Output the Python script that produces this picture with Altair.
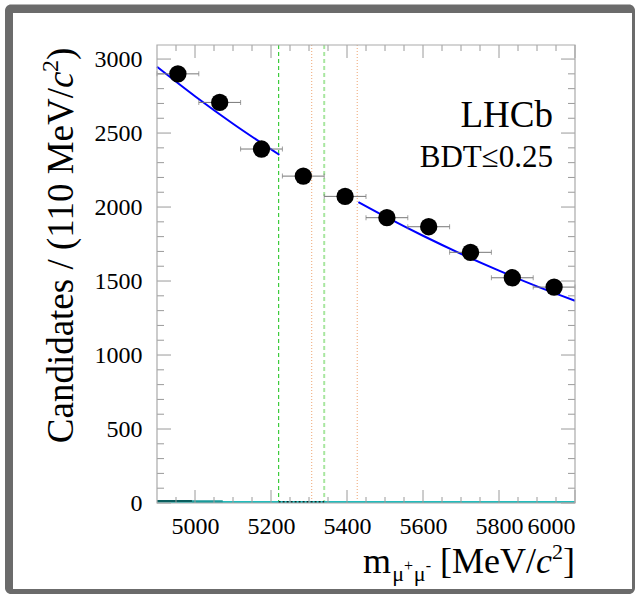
import altair as alt
import pandas as pd

# ---- data ----
bin_center = [4955, 5065, 5175, 5285, 5395, 5505, 5615, 5725, 5835, 5945]
bin_lo = [4900, 5010, 5120, 5230, 5340, 5450, 5560, 5670, 5780, 5890]
bin_hi = [5010, 5120, 5230, 5340, 5450, 5560, 5670, 5780, 5890, 6000]
counts = [2900, 2707, 2392, 2209, 2072, 1928, 1867, 1694, 1522, 1459]

fit_left_x = [4900, 5000, 5100, 5222]
fit_left_y = [2948, 2749, 2563, 2353]
fit_right_x = [5430, 5500, 5600, 5700, 5800, 5900, 6000]
fit_right_y = [2034, 1937, 1806, 1684, 1570, 1464, 1367]

bd_window = [5220, 5340]
bs_window = [5307, 5427]

x_major = [5000, 5200, 5400, 5600, 5800, 6000]
x_minor = [4950, 5050, 5100, 5150, 5250, 5300, 5350, 5450, 5500, 5550,
           5650, 5700, 5750, 5850, 5900, 5950]
y_major = [0, 500, 1000, 1500, 2000, 2500, 3000]
y_minor = [v for v in range(100, 3100, 100) if v % 500 != 0]

W, H = 418, 458
XD = [4900, 6000]
YD = [0, 3095]
FONT = "'Liberation Serif', 'Times New Roman', 'DejaVu Serif', serif"

xs = alt.Scale(domain=XD, nice=False, zero=False)
ys = alt.Scale(domain=YD, nice=False, zero=False)

one = pd.DataFrame({"a": [0]})

# frame / background
outer = alt.Chart(one).mark_rect(color="#6b6b6b", cornerRadius=6).encode(
    x=alt.value(-152), x2=alt.value(478), y=alt.value(-40.5), y2=alt.value(549))
inner = alt.Chart(one).mark_rect(color="white").encode(
    x=alt.value(-144), x2=alt.value(475), y=alt.value(-32), y2=alt.value(544))

pts = pd.DataFrame({"x": bin_center, "lo": bin_lo, "hi": bin_hi, "y": counts})

# axes carrying only labels
base_axes = alt.Chart(pts).mark_point(opacity=0).encode(
    x=alt.X("x:Q", scale=xs, axis=alt.Axis(
        values=x_major, ticks=False, domain=False, grid=False, labelFont=FONT,
        labelFontSize=24, labelColor="black", labelPadding=11, title=None,
        zindex=1, format="d")),
    y=alt.Y("y:Q", scale=ys, axis=alt.Axis(
        values=y_major, ticks=False, domain=False, grid=False, labelFont=FONT,
        labelFontSize=24, labelColor="black", labelPadding=15, title=None,
        zindex=1, format="d")),
)

# ticks inward on all four sides
TC = "#9a9a9a"
xmaj = pd.DataFrame({"v": x_major})
xmin = pd.DataFrame({"v": x_minor})
ymaj = pd.DataFrame({"v": y_major})
ymin = pd.DataFrame({"v": y_minor})


def xticks(df, L):
    b = alt.Chart(df).mark_rule(color=TC, strokeWidth=1).encode(
        x=alt.X("v:Q", scale=xs), y=alt.value(H), y2=alt.value(H - L))
    t = alt.Chart(df).mark_rule(color=TC, strokeWidth=1).encode(
        x=alt.X("v:Q", scale=xs), y=alt.value(0), y2=alt.value(L))
    return b + t


def yticks(df, L):
    l = alt.Chart(df).mark_rule(color=TC, strokeWidth=1).encode(
        y=alt.Y("v:Q", scale=ys), x=alt.value(0), x2=alt.value(L))
    r = alt.Chart(df).mark_rule(color=TC, strokeWidth=1).encode(
        y=alt.Y("v:Q", scale=ys), x=alt.value(W), x2=alt.value(W - L))
    return l + r


ticks = xticks(xmaj, 13) + xticks(xmin, 6) + yticks(ymaj, 14) + yticks(ymin, 7)

box = alt.Chart(one).mark_rect(fillOpacity=0, stroke="#aaaaaa", strokeWidth=1.2).encode(
    x=alt.value(0), x2=alt.value(W), y=alt.value(0), y2=alt.value(H))

# window lines
vl1 = alt.Chart(pd.DataFrame({"v": [bd_window[0]]})).mark_rule(
    color="#3ccc3c", strokeDash=[4, 3], strokeWidth=1.2).encode(
    x=alt.X("v:Q", scale=xs), y=alt.value(0), y2=alt.value(H))
vl2 = alt.Chart(pd.DataFrame({"v": [bd_window[1]]})).mark_rule(
    color="#a8e6a0", strokeDash=[4, 3], strokeWidth=2).encode(
    x=alt.X("v:Q", scale=xs), y=alt.value(0), y2=alt.value(H))
vl3 = alt.Chart(pd.DataFrame({"v": bs_window})).mark_rule(
    color="#f2b48a", strokeDash=[1, 2], strokeWidth=1.2).encode(
    x=alt.X("v:Q", scale=xs), y=alt.value(0), y2=alt.value(H))

# small components near zero
comp_cyan = alt.Chart(pd.DataFrame({"x1": [4900], "x2": [6000]})).mark_rule(
    color="#22bcbc", strokeWidth=2).encode(
    x=alt.X("x1:Q", scale=xs), x2="x2:Q", y=alt.value(H - 1))
comp_dark = alt.Chart(pd.DataFrame({"x1": [4900], "x2": [4992]})).mark_rule(
    color="#0a5f5f", strokeWidth=2).encode(
    x=alt.X("x1:Q", scale=xs), x2="x2:Q", y=alt.value(H - 2))
comp_mid = alt.Chart(pd.DataFrame({"x1": [4992], "x2": [5073]})).mark_rule(
    color="#1a9a9a", strokeWidth=2.5).encode(
    x=alt.X("x1:Q", scale=xs), x2="x2:Q", y=alt.value(H - 1.5))
comp_sig = alt.Chart(pd.DataFrame({"x1": [bd_window[0]], "x2": [bd_window[1]]})).mark_rule(
    color="black", strokeWidth=1.5, strokeDash=[2, 2]).encode(
    x=alt.X("x1:Q", scale=xs), x2="x2:Q", y=alt.value(H - 1))

# fit
fit = pd.DataFrame({
    "x": fit_left_x + fit_right_x,
    "y": fit_left_y + fit_right_y,
    "seg": ["L"] * len(fit_left_x) + ["R"] * len(fit_right_x),
})
fit_line = alt.Chart(fit).mark_line(color="#0000ff", strokeWidth=2, interpolate="monotone").encode(
    x=alt.X("x:Q", scale=xs), y=alt.Y("y:Q", scale=ys), detail="seg:N")

# error bars and points
xerr = alt.Chart(pts).mark_rule(color="#777777", strokeWidth=1).encode(
    x=alt.X("lo:Q", scale=xs), x2="hi:Q", y=alt.Y("y:Q", scale=ys))
caps_lo = alt.Chart(pts).mark_tick(color="#777777", thickness=1, size=5, orient="vertical").encode(
    x=alt.X("lo:Q", scale=xs), y=alt.Y("y:Q", scale=ys))
caps_hi = alt.Chart(pts).mark_tick(color="#777777", thickness=1, size=5, orient="vertical").encode(
    x=alt.X("hi:Q", scale=xs), y=alt.Y("y:Q", scale=ys))
dots = alt.Chart(pts).mark_circle(color="black", opacity=1, size=300).encode(
    x=alt.X("x:Q", scale=xs), y=alt.Y("y:Q", scale=ys))


def txt(s, x, y, size, align="left", angle=0, style="normal", baseline="alphabetic"):
    kw = dict(text=s, font=FONT, fontSize=size, align=align, baseline=baseline,
              color="black", fontStyle=style)
    if angle:
        kw["angle"] = angle
    return alt.Chart(one).mark_text(**kw).encode(x=alt.value(x), y=alt.value(y))


# y title (rotated)
YX = -84
ytitle = (
    txt("Candidates / (110 MeV/", YX, 43, 37, align="right", angle=270)
    + txt("c", YX, 43, 37, align="left", angle=270, style="italic")
    + txt("2", YX - 15, 27, 24, align="left", angle=270)
    + txt(")", YX, 15, 37, align="left", angle=270)
)

# x title
XB = 528
xtitle = (
    txt("]", 418, XB, 36, align="right")
    + txt("2", 406, XB - 14, 22, align="right")
    + txt("c", 395, XB, 36, align="right", style="italic")
    + txt("[MeV/", 379, XB, 36, align="right")
    + txt("-", 274, XB - 2, 16, align="right")
    + txt("\u03bc", 268.5, XB + 8, 22, align="right")
    + txt("+", 256, XB - 2, 16, align="right")
    + txt("\u03bc", 247, XB + 8, 22, align="right")
    + txt("m", 234, XB, 36, align="right")
)

labels = (
    txt("LHCb", 396, 82, 37, align="right")
    + txt("BDT\u22640.25", 396, 122, 31, align="right")
)

chart = alt.layer(
    outer, inner, base_axes, vl1, vl2, vl3, comp_cyan, comp_mid, comp_dark, comp_sig,
    fit_line, xerr, caps_lo, caps_hi, dots, ticks, box, ytitle, xtitle, labels,
).properties(
    width=W, height=H,
    autosize=alt.AutoSizeParams(type="none"),
    padding={"left": 157, "top": 45, "right": 60, "bottom": 91},
    background="white",
).configure_view(stroke=None)

chart.save("out.html", embed_options={"renderer": "svg", "actions": False})
